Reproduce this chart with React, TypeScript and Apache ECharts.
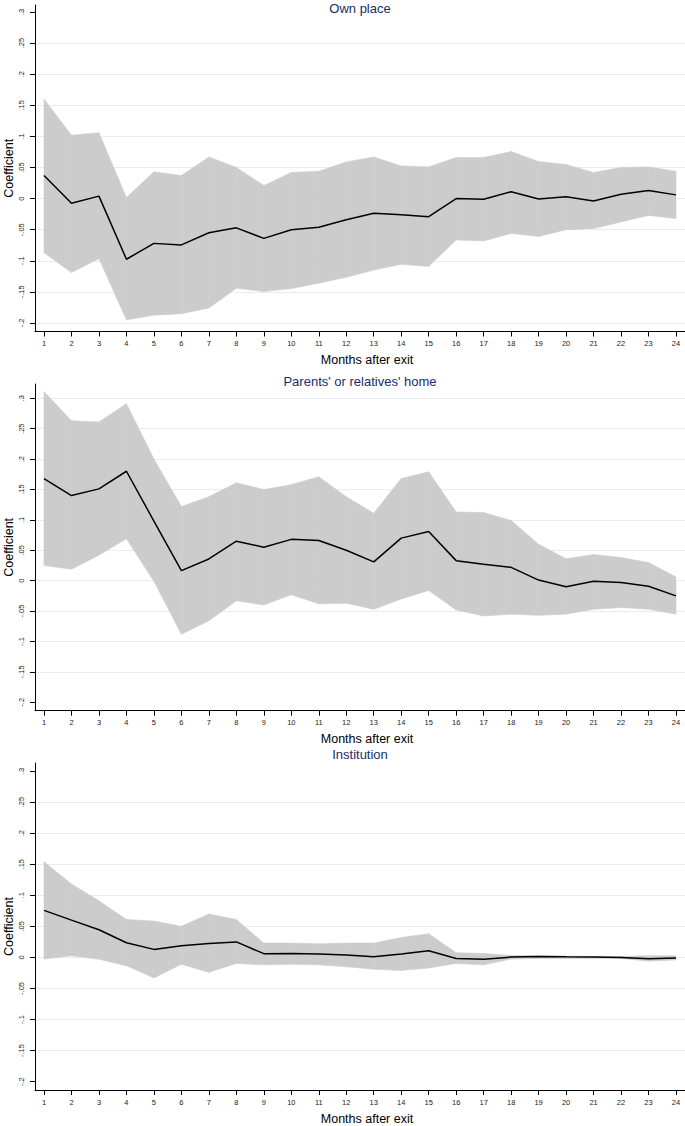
import React, { useEffect, useRef } from "react";
import * as echarts from "echarts";

const months = [1, 2, 3, 4, 5, 6, 7, 8, 9, 10, 11, 12, 13, 14, 15, 16, 17, 18, 19, 20, 21, 22, 23, 24];
const yTicks = [-0.2, -0.15, -0.1, -0.05, 0, 0.05, 0.1, 0.15, 0.2, 0.25, 0.3];

const panelTitles = ["Own place", "Parents' or relatives' home", "Institution"];
const yAxisTitle = "Coefficient";
const xAxisTitle = "Months after exit";

const ownEst = [0.037, -0.0075, 0.004, -0.0975, -0.072, -0.0745, -0.055, -0.047, -0.064, -0.05, -0.046, -0.034, -0.0236, -0.026, -0.029, 0.0, -0.001, 0.011, -0.0005, 0.003, -0.004, 0.007, 0.013, 0.006];
const ownUpper = [0.16, 0.102, 0.106, 0.0016, 0.043, 0.037, 0.067, 0.05, 0.021, 0.042, 0.044, 0.059, 0.067, 0.0525, 0.051, 0.066, 0.066, 0.0756, 0.0595, 0.055, 0.042, 0.05, 0.051, 0.044];
const ownLower = [-0.087, -0.119, -0.0965, -0.195, -0.1875, -0.185, -0.176, -0.144, -0.1495, -0.1447, -0.136, -0.1265, -0.115, -0.1056, -0.109, -0.0665, -0.068, -0.056, -0.061, -0.05, -0.048, -0.0375, -0.027, -0.032];

const parEst = [0.168, 0.14, 0.151, 0.18, 0.098, 0.0165, 0.0357, 0.065, 0.055, 0.068, 0.066, 0.05, 0.031, 0.07, 0.081, 0.033, 0.027, 0.022, 0.001, -0.01, -0.001, -0.003, -0.009, -0.025];
const parUpper = [0.311, 0.263, 0.261, 0.291, 0.2, 0.122, 0.138, 0.161, 0.15, 0.158, 0.171, 0.138, 0.111, 0.168, 0.179, 0.113, 0.112, 0.099, 0.06, 0.036, 0.043, 0.038, 0.03, 0.006];
const parLower = [0.025, 0.019, 0.042, 0.069, -0.001, -0.088, -0.066, -0.033, -0.04, -0.023, -0.038, -0.037, -0.047, -0.03, -0.016, -0.048, -0.058, -0.055, -0.057, -0.055, -0.047, -0.044, -0.047, -0.055];

const insEst = [0.0757, 0.06, 0.0446, 0.0236, 0.0129, 0.0188, 0.0225, 0.025, 0.006, 0.0064, 0.0054, 0.0038, 0.001, 0.0054, 0.0107, -0.0016, -0.003, 0.0005, 0.0016, 0.001, 0.0005, 0.0, -0.002, -0.001];
const insUpper = [0.154, 0.118, 0.091, 0.061, 0.0585, 0.05, 0.07, 0.061, 0.023, 0.023, 0.022, 0.023, 0.023, 0.032, 0.038, 0.0075, 0.0064, 0.003, 0.0027, 0.002, 0.0016, 0.0016, 0.0027, 0.0027];
const insLower = [-0.0027, 0.0027, -0.003, -0.0134, -0.033, -0.011, -0.024, -0.0097, -0.012, -0.011, -0.012, -0.015, -0.019, -0.021, -0.017, -0.0097, -0.012, -0.0027, -0.0016, -0.0016, -0.0016, -0.0016, -0.006, -0.004];

const FONT = "'Liberation Sans', Arial, Helvetica, sans-serif";
const GRID_COLOR = "#e4edf0";
const BAND_COLOR = "#cccccc";
const TITLE_COLOR = "#1a2d66";

const fmtY = (v: number) => {
  if (Math.abs(v) < 1e-9) return "0";
  const s = parseFloat(v.toFixed(2)).toString();
  return s.replace("0.", ".");
};

export default function App() {
  const ref = useRef<HTMLDivElement>(null);
  useEffect(() => {
    if (!ref.current) return;
    const chart = echarts.init(ref.current, null, { renderer: "svg" });

    const panels = [
      { est: ownEst, up: ownUpper, lo: ownLower, top: 5, height: 326.5, min: -0.2137, max: 0.3113, hide: [10], titleY: 8 },
      { est: parEst, up: parUpper, lo: parLower, top: 384, height: 326.7, min: -0.2138, max: 0.3235, hide: [0], titleY: 381 },
      { est: insEst, up: insUpper, lo: insLower, top: 763, height: 327, min: -0.2134, max: 0.3129, hide: [0, 10], titleY: 754 },
    ];

    const grid: any[] = [];
    const xAxis: any[] = [];
    const yAxis: any[] = [];
    const series: any[] = [];
    const graphic: any[] = [];

    const bandRender = (params: any, api: any) => {
      const x0 = api.value(0);
      const lo0 = api.value(1);
      const up0 = api.value(2);
      const x1 = api.value(3);
      const lo1 = api.value(4);
      const up1 = api.value(5);
      const pts = [
        api.coord([x0, up0]),
        api.coord([x1, up1]),
        api.coord([x1, lo1]),
        api.coord([x0, lo0]),
      ];
      return {
        type: "polygon",
        shape: { points: pts },
        style: { fill: BAND_COLOR, stroke: BAND_COLOR, lineWidth: 0.6 },
      };
    };

    panels.forEach((p, i) => {
      grid.push({ left: 35, width: 650, top: p.top, height: p.height, containLabel: false, outerBoundsMode: "none" });
      xAxis.push({
        type: "value",
        gridIndex: i,
        min: 0.6725,
        max: 24.3275,
        name: xAxisTitle,
        nameLocation: "middle",
        nameGap: 22,
        nameTextStyle: { fontFamily: FONT, fontSize: 12.5, fontWeight: "normal", color: "#000", padding: [0, 0, 0, 14] },
        axisLine: { show: true, onZero: false, lineStyle: { color: "#000", width: 1 } },
        axisTick: { show: true, length: 5, inside: false, customValues: months, lineStyle: { color: "#000" } },
        axisLabel: {
          customValues: months,
          formatter: (v: number) => String(Math.round(v)),
          fontFamily: FONT,
          fontSize: 7.5,
          color: "#222",
          margin: 8,
        },
        splitLine: { show: false },
      });
      yAxis.push({
        type: "value",
        gridIndex: i,
        min: p.min,
        max: p.max,
        axisLine: { show: true, onZero: false, lineStyle: { color: "#000", width: 1 } },
        axisTick: { show: true, length: 5, inside: false, customValues: yTicks, lineStyle: { color: "#000" } },
        axisLabel: {
          customValues: yTicks,
          formatter: fmtY,
          rotate: 90,
          fontFamily: FONT,
          fontSize: 7.5,
          color: "#222",
          margin: 10,
        },
        splitLine: {
          show: true,
          lineStyle: {
            color: yTicks.map((_, k) => (p.hide.includes(k) ? "rgba(0,0,0,0)" : GRID_COLOR)),
            width: 1,
          },
        },
      });
      const segs = months.slice(0, -1).map((m, k) => [m, p.lo[k], p.up[k], months[k + 1], p.lo[k + 1], p.up[k + 1]]);
      series.push({
        type: "custom",
        name: "95% CI",
        xAxisIndex: i,
        yAxisIndex: i,
        data: segs,
        renderItem: bandRender,
        encode: { x: [0, 3], y: [1, 2, 4, 5] },
        silent: true,
        clip: true,
        z: 2,
      });
      series.push({
        type: "line",
        name: "Coefficient",
        xAxisIndex: i,
        yAxisIndex: i,
        data: months.map((m, k) => [m, p.est[k]]),
        symbol: "none",
        lineStyle: { color: "#000", width: 1.5 },
        z: 3,
      });
      graphic.push({
        type: "text",
        x: 360,
        y: p.titleY,
        z: 10,
        style: {
          text: panelTitles[i],
          align: "center",
          verticalAlign: "middle",
          fontFamily: FONT,
          fontSize: 13,
          fill: TITLE_COLOR,
        },
      });
      graphic.push({
        type: "text",
        x: 8.5,
        y: p.top + p.height / 2,
        rotation: Math.PI / 2,
        z: 10,
        style: {
          text: yAxisTitle,
          align: "center",
          verticalAlign: "middle",
          fontFamily: FONT,
          fontSize: 12.5,
          fill: "#000",
        },
      });
    });

    chart.setOption({
      animation: false,
      backgroundColor: "#fff",
      grid,
      xAxis,
      yAxis,
      series,
      graphic,
    });
    return () => chart.dispose();
  }, []);

  return (
    <div
      ref={ref}
      style={{ position: "absolute", left: 0, top: 0, width: 685, height: 1126, background: "#fff" }}
    />
  );
}
